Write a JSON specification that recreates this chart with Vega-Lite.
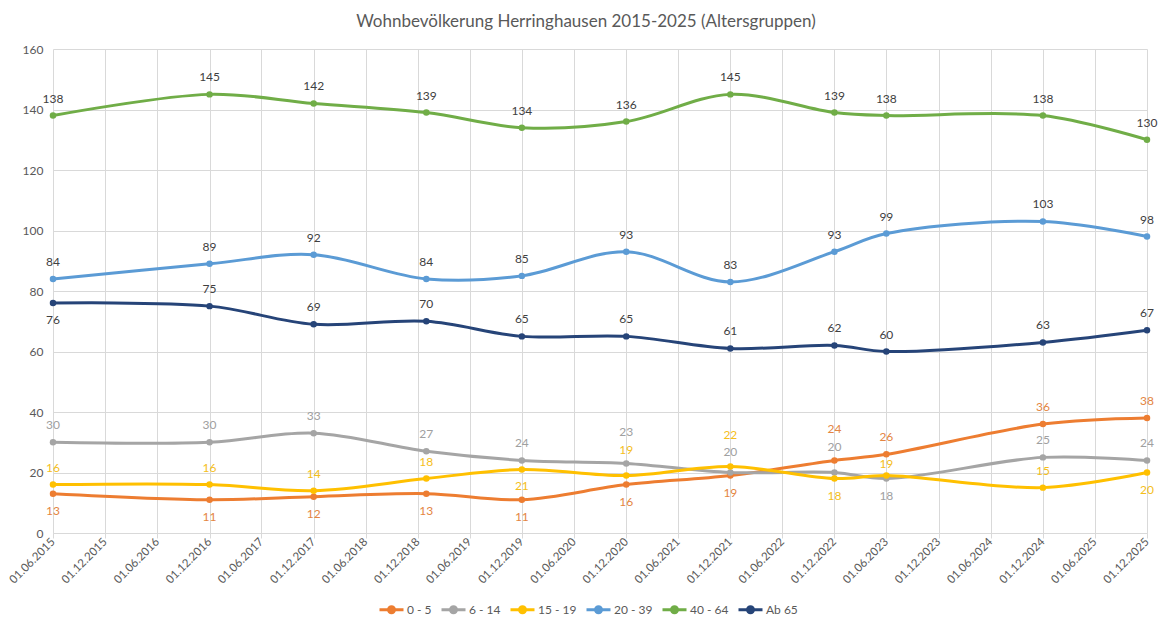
{
  "$schema": "https://vega.github.io/schema/vega-lite/v6.json",
  "width": 1094,
  "height": 484,
  "autosize": {"type": "none"},
  "padding": {"left": 53, "top": 49, "right": 25, "bottom": 97},
  "background": "white",
  "title": {
    "text": "Wohnbevölkerung Herringhausen 2015-2025 (Altersgruppen)",
    "font": "Lato",
    "fontSize": 17,
    "fontWeight": "normal",
    "color": "#595959",
    "anchor": "middle",
    "dx": -14,
    "offset": 12
  },
  "config": {
    "view": {"stroke": null},
    "font": "Lato"
  },
  "data": {
    "values": [
      {"date": "2015-06-01", "group": "0 - 5", "value": 13},
      {"date": "2016-12-01", "group": "0 - 5", "value": 11},
      {"date": "2017-12-01", "group": "0 - 5", "value": 12},
      {"date": "2018-12-31", "group": "0 - 5", "value": 13},
      {"date": "2019-12-01", "group": "0 - 5", "value": 11},
      {"date": "2020-12-01", "group": "0 - 5", "value": 16},
      {"date": "2021-12-01", "group": "0 - 5", "value": 19},
      {"date": "2022-12-01", "group": "0 - 5", "value": 24},
      {"date": "2023-06-01", "group": "0 - 5", "value": 26},
      {"date": "2024-12-01", "group": "0 - 5", "value": 36},
      {"date": "2025-12-01", "group": "0 - 5", "value": 38},
      {"date": "2015-06-01", "group": "6 - 14", "value": 30},
      {"date": "2016-12-01", "group": "6 - 14", "value": 30},
      {"date": "2017-12-01", "group": "6 - 14", "value": 33},
      {"date": "2018-12-31", "group": "6 - 14", "value": 27},
      {"date": "2019-12-01", "group": "6 - 14", "value": 24},
      {"date": "2020-12-01", "group": "6 - 14", "value": 23},
      {"date": "2021-12-01", "group": "6 - 14", "value": 20},
      {"date": "2022-12-01", "group": "6 - 14", "value": 20},
      {"date": "2023-06-01", "group": "6 - 14", "value": 18},
      {"date": "2024-12-01", "group": "6 - 14", "value": 25},
      {"date": "2025-12-01", "group": "6 - 14", "value": 24},
      {"date": "2015-06-01", "group": "15 - 19", "value": 16},
      {"date": "2016-12-01", "group": "15 - 19", "value": 16},
      {"date": "2017-12-01", "group": "15 - 19", "value": 14},
      {"date": "2018-12-31", "group": "15 - 19", "value": 18},
      {"date": "2019-12-01", "group": "15 - 19", "value": 21},
      {"date": "2020-12-01", "group": "15 - 19", "value": 19},
      {"date": "2021-12-01", "group": "15 - 19", "value": 22},
      {"date": "2022-12-01", "group": "15 - 19", "value": 18},
      {"date": "2023-06-01", "group": "15 - 19", "value": 19},
      {"date": "2024-12-01", "group": "15 - 19", "value": 15},
      {"date": "2025-12-01", "group": "15 - 19", "value": 20},
      {"date": "2015-06-01", "group": "20 - 39", "value": 84},
      {"date": "2016-12-01", "group": "20 - 39", "value": 89},
      {"date": "2017-12-01", "group": "20 - 39", "value": 92},
      {"date": "2018-12-31", "group": "20 - 39", "value": 84},
      {"date": "2019-12-01", "group": "20 - 39", "value": 85},
      {"date": "2020-12-01", "group": "20 - 39", "value": 93},
      {"date": "2021-12-01", "group": "20 - 39", "value": 83},
      {"date": "2022-12-01", "group": "20 - 39", "value": 93},
      {"date": "2023-06-01", "group": "20 - 39", "value": 99},
      {"date": "2024-12-01", "group": "20 - 39", "value": 103},
      {"date": "2025-12-01", "group": "20 - 39", "value": 98},
      {"date": "2015-06-01", "group": "40 - 64", "value": 138},
      {"date": "2016-12-01", "group": "40 - 64", "value": 145},
      {"date": "2017-12-01", "group": "40 - 64", "value": 142},
      {"date": "2018-12-31", "group": "40 - 64", "value": 139},
      {"date": "2019-12-01", "group": "40 - 64", "value": 134},
      {"date": "2020-12-01", "group": "40 - 64", "value": 136},
      {"date": "2021-12-01", "group": "40 - 64", "value": 145},
      {"date": "2022-12-01", "group": "40 - 64", "value": 139},
      {"date": "2023-06-01", "group": "40 - 64", "value": 138},
      {"date": "2024-12-01", "group": "40 - 64", "value": 138},
      {"date": "2025-12-01", "group": "40 - 64", "value": 130},
      {"date": "2015-06-01", "group": "Ab 65", "value": 76},
      {"date": "2016-12-01", "group": "Ab 65", "value": 75},
      {"date": "2017-12-01", "group": "Ab 65", "value": 69},
      {"date": "2018-12-31", "group": "Ab 65", "value": 70},
      {"date": "2019-12-01", "group": "Ab 65", "value": 65},
      {"date": "2020-12-01", "group": "Ab 65", "value": 65},
      {"date": "2021-12-01", "group": "Ab 65", "value": 61},
      {"date": "2022-12-01", "group": "Ab 65", "value": 62},
      {"date": "2023-06-01", "group": "Ab 65", "value": 60},
      {"date": "2024-12-01", "group": "Ab 65", "value": 63},
      {"date": "2025-12-01", "group": "Ab 65", "value": 67}
    ]
  },
  "encoding": {
    "x": {
      "field": "date",
      "type": "temporal",
      "scale": {
        "type": "utc",
        "domain": [
          {"year": 2015, "month": 6, "date": 1, "utc": true},
          {"year": 2025, "month": 12, "date": 1, "utc": true}
        ]
      },
      "axis": {
        "title": null,
        "labelExpr": "utcFormat(datum.value, '%d.%m.%Y')",
        "values": [
          {"year": 2015, "month": 6, "date": 1, "utc": true},
          {"year": 2015, "month": 12, "date": 1, "utc": true},
          {"year": 2016, "month": 6, "date": 1, "utc": true},
          {"year": 2016, "month": 12, "date": 1, "utc": true},
          {"year": 2017, "month": 6, "date": 1, "utc": true},
          {"year": 2017, "month": 12, "date": 1, "utc": true},
          {"year": 2018, "month": 6, "date": 1, "utc": true},
          {"year": 2018, "month": 12, "date": 1, "utc": true},
          {"year": 2019, "month": 6, "date": 1, "utc": true},
          {"year": 2019, "month": 12, "date": 1, "utc": true},
          {"year": 2020, "month": 6, "date": 1, "utc": true},
          {"year": 2020, "month": 12, "date": 1, "utc": true},
          {"year": 2021, "month": 6, "date": 1, "utc": true},
          {"year": 2021, "month": 12, "date": 1, "utc": true},
          {"year": 2022, "month": 6, "date": 1, "utc": true},
          {"year": 2022, "month": 12, "date": 1, "utc": true},
          {"year": 2023, "month": 6, "date": 1, "utc": true},
          {"year": 2023, "month": 12, "date": 1, "utc": true},
          {"year": 2024, "month": 6, "date": 1, "utc": true},
          {"year": 2024, "month": 12, "date": 1, "utc": true},
          {"year": 2025, "month": 6, "date": 1, "utc": true},
          {"year": 2025, "month": 12, "date": 1, "utc": true}
        ],
        "labelAngle": -45,
        "labelAlign": "right",
        "labelBaseline": "middle",
        "labelFont": "Lato",
        "labelFontSize": 11.5,
        "labelColor": "#595959",
        "labelPadding": 2,
        "labelOverlap": false,
        "labelFlush": false,
        "grid": true,
        "gridColor": "#D9D9D9",
        "gridWidth": 1,
        "domainColor": "#D9D9D9",
        "domainWidth": 1,
        "tickColor": "#D9D9D9",
        "tickSize": 5
      }
    },
    "y": {
      "field": "value",
      "type": "quantitative",
      "scale": {"domain": [0, 160], "nice": false, "zero": true},
      "axis": {
        "title": null,
        "values": [0, 20, 40, 60, 80, 100, 120, 140, 160],
        "labelFont": "Lato",
        "labelFontSize": 12,
        "labelColor": "#595959",
        "labelPadding": 10,
        "grid": true,
        "gridColor": "#D9D9D9",
        "gridWidth": 1,
        "domain": false,
        "ticks": false
      }
    }
  },
  "layer": [
    {
      "mark": {
        "type": "line",
        "interpolate": "catmull-rom",
        "strokeWidth": 3,
        "point": {"size": 42, "filled": true, "opacity": 1}
      },
      "encoding": {
        "color": {
          "field": "group",
          "type": "nominal",
          "scale": {
            "domain": ["0 - 5", "6 - 14", "15 - 19", "20 - 39", "40 - 64", "Ab 65"],
            "range": ["#ED7D31", "#A5A5A5", "#FFC000", "#5B9BD5", "#70AD47", "#264478"]
          },
          "legend": {
            "title": null,
            "orient": "none",
            "direction": "horizontal",
            "legendX": 325,
            "legendY": 547,
            "columns": 6,
            "labelFont": "Lato",
            "labelFontSize": 12,
            "labelColor": "#595959",
            "symbolType": "M-1,0H1M-0.25,0A0.25,0.25 0 1,0 0.25,0A0.25,0.25 0 1,0 -0.25,0",
            "symbolSize": 576,
            "symbolStrokeWidth": 3,
            "symbolOpacity": 1,
            "columnPadding": 3,
            "labelOffset": 2
          }
        },
        "detail": {"field": "group"}
      }
    },
    {
      "transform": [
        {"filter": "indexof(['0 - 5|2015','0 - 5|2016','0 - 5|2017','0 - 5|2018','0 - 5|2019','0 - 5|2020','0 - 5|2021','6 - 14|2023','15 - 19|2019','15 - 19|2022','15 - 19|2025','Ab 65|2015','15 - 19|2020','6 - 14|2020','15 - 19|2021','0 - 5|2022','6 - 14|2022','6 - 14|2021','15 - 19|2023'], datum.group + '|' + utcyear(datum.date)) < 0"}
      ],
      "mark": {"type": "text", "dy": -17, "font": "Lato", "fontSize": 12, "baseline": "middle"},
      "encoding": {
        "text": {"field": "value", "type": "quantitative"},
        "color": {
          "field": "group",
          "type": "nominal",
          "scale": {
            "domain": ["0 - 5", "6 - 14", "15 - 19", "20 - 39", "40 - 64", "Ab 65"],
            "range": ["#E48542", "#A0A0A0", "#F5BE1A", "#404040", "#404040", "#404040"]
          },
          "legend": null
        }
      }
    },
    {
      "transform": [
        {"filter": "indexof(['0 - 5|2015','0 - 5|2016','0 - 5|2017','0 - 5|2018','0 - 5|2019','0 - 5|2020','0 - 5|2021','6 - 14|2023','15 - 19|2019','15 - 19|2022','15 - 19|2025','Ab 65|2015'], datum.group + '|' + utcyear(datum.date)) >= 0"}
      ],
      "mark": {"type": "text", "dy": 17, "font": "Lato", "fontSize": 12, "baseline": "middle"},
      "encoding": {
        "text": {"field": "value", "type": "quantitative"},
        "color": {
          "field": "group",
          "type": "nominal",
          "scale": {
            "domain": ["0 - 5", "6 - 14", "15 - 19", "20 - 39", "40 - 64", "Ab 65"],
            "range": ["#E48542", "#A0A0A0", "#F5BE1A", "#404040", "#404040", "#404040"]
          },
          "legend": null
        }
      }
    },
    {
      "transform": [
        {"filter": "indexof(['6 - 14|2020','15 - 19|2021','0 - 5|2022'], datum.group + '|' + utcyear(datum.date)) >= 0"}
      ],
      "mark": {"type": "text", "dy": -31, "font": "Lato", "fontSize": 12, "baseline": "middle"},
      "encoding": {
        "text": {"field": "value", "type": "quantitative"},
        "color": {
          "field": "group",
          "type": "nominal",
          "scale": {
            "domain": ["0 - 5", "6 - 14", "15 - 19", "20 - 39", "40 - 64", "Ab 65"],
            "range": ["#E48542", "#A0A0A0", "#F5BE1A", "#404040", "#404040", "#404040"]
          },
          "legend": null
        }
      }
    },
    {
      "transform": [
        {"filter": "indexof(['15 - 19|2020','6 - 14|2022'], datum.group + '|' + utcyear(datum.date)) >= 0"}
      ],
      "mark": {"type": "text", "dy": -26, "font": "Lato", "fontSize": 12, "baseline": "middle"},
      "encoding": {
        "text": {"field": "value", "type": "quantitative"},
        "color": {
          "field": "group",
          "type": "nominal",
          "scale": {
            "domain": ["0 - 5", "6 - 14", "15 - 19", "20 - 39", "40 - 64", "Ab 65"],
            "range": ["#E48542", "#A0A0A0", "#F5BE1A", "#404040", "#404040", "#404040"]
          },
          "legend": null
        }
      }
    },
    {
      "transform": [
        {"filter": "indexof(['6 - 14|2021'], datum.group + '|' + utcyear(datum.date)) >= 0"}
      ],
      "mark": {"type": "text", "dy": -21, "font": "Lato", "fontSize": 12, "baseline": "middle"},
      "encoding": {
        "text": {"field": "value", "type": "quantitative"},
        "color": {
          "field": "group",
          "type": "nominal",
          "scale": {
            "domain": ["0 - 5", "6 - 14", "15 - 19", "20 - 39", "40 - 64", "Ab 65"],
            "range": ["#E48542", "#A0A0A0", "#F5BE1A", "#404040", "#404040", "#404040"]
          },
          "legend": null
        }
      }
    },
    {
      "transform": [
        {"filter": "indexof(['15 - 19|2023'], datum.group + '|' + utcyear(datum.date)) >= 0"}
      ],
      "mark": {"type": "text", "dy": -12, "font": "Lato", "fontSize": 12, "baseline": "middle"},
      "encoding": {
        "text": {"field": "value", "type": "quantitative"},
        "color": {
          "field": "group",
          "type": "nominal",
          "scale": {
            "domain": ["0 - 5", "6 - 14", "15 - 19", "20 - 39", "40 - 64", "Ab 65"],
            "range": ["#E48542", "#A0A0A0", "#F5BE1A", "#404040", "#404040", "#404040"]
          },
          "legend": null
        }
      }
    }
  ],
  "resolve": {"scale": {"color": "independent"}}
}
